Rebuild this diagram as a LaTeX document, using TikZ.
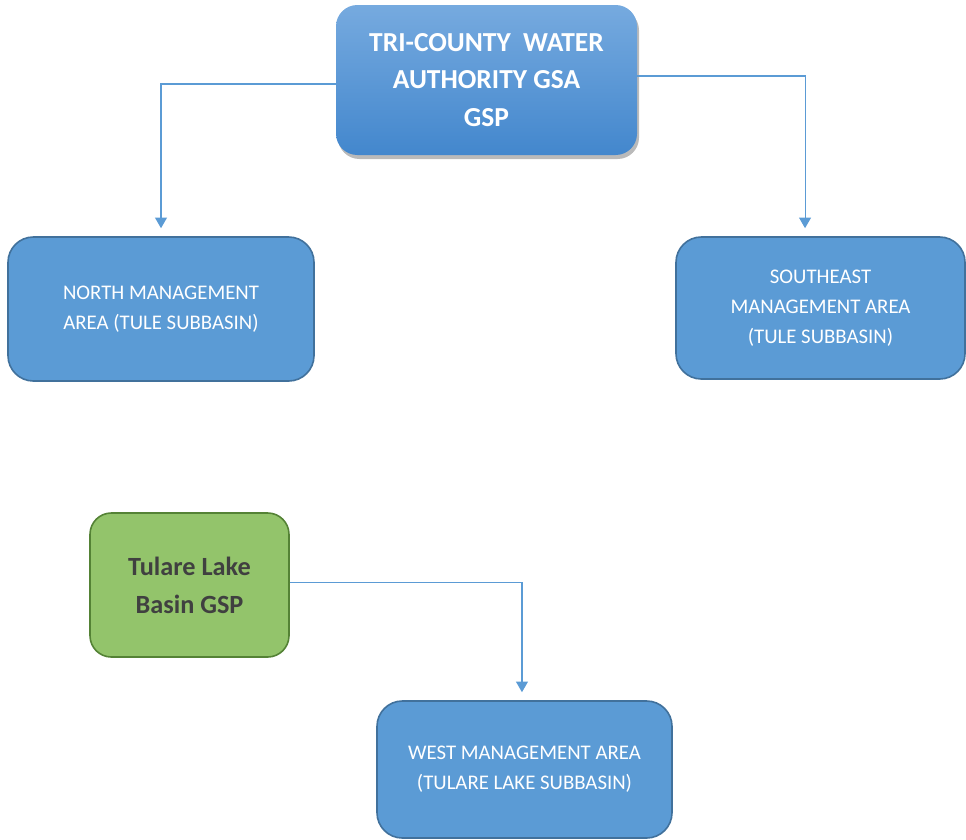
\documentclass[tikz,border=0pt]{standalone}
\usepackage{fontspec}
\setmainfont{Carlito}
\usetikzlibrary{arrows.meta,shadows,positioning}
\definecolor{boxblue}{HTML}{5B9BD5}
\definecolor{boxedge}{HTML}{41719C}
\definecolor{topA}{HTML}{76AADF}
\definecolor{topB}{HTML}{4387CD}
\definecolor{grfill}{HTML}{93C46B}
\definecolor{gredge}{HTML}{548235}
\definecolor{grtext}{HTML}{404040}
\definecolor{conncol}{HTML}{5B9BD5}
\tikzset{
  areabox/.style={draw=boxedge, line width=1.2pt, fill=boxblue, rounded corners=19pt,
    text=white, align=center, font=\fontsize{15.6}{22.5}\selectfont},
  topbox/.style={rounded corners=16pt, top color=topA, bottom color=topB, draw=none,
    text=white, align=center, font=\fontsize{20.6}{28}\selectfont\bfseries,
    drop shadow={shadow xshift=1.5pt, shadow yshift=-3pt, opacity=0.45, fill=black!60}},
  greenbox/.style={draw=gredge, line width=1.2pt, fill=grfill, rounded corners=16pt,
    text=grtext, align=center, font=\fontsize{19.7}{28.5}\selectfont\bfseries},
  conn/.style={draw=conncol, line width=0.8pt, -{Triangle[width=9pt,length=8pt]}, shorten >=6pt}
}
\begin{document}
\begin{tikzpicture}[x=0.75pt,y=-0.75pt]
\useasboundingbox (0,0) rectangle (966,839);
\node[topbox, minimum width=225.75pt, minimum height=112.5pt] (top) at (486.5,80)
  {TRI-COUNTY\ \ WATER\\AUTHORITY GSA\\GSP};
\node[areabox, minimum width=229.5pt, minimum height=108pt] (north) at (161,309)
  {NORTH MANAGEMENT\\AREA (TULE SUBBASIN)};
\node[areabox, minimum width=216.75pt, minimum height=106.5pt] (se) at (820.5,308)
  {SOUTHEAST\\MANAGEMENT AREA\\(TULE SUBBASIN)};
\node[greenbox, minimum width=149.25pt, minimum height=108pt] (green) at (189.5,585)
  {Tulare Lake\\Basin GSP};
\node[areabox, minimum width=221.25pt, minimum height=102.75pt] (west) at (524.5,769.5)
  {WEST MANAGEMENT AREA\\(TULARE LAKE SUBBASIN)};
\draw[conn] ([yshift=-3pt]top.west) -| (north.north);
\draw[conn] ([yshift=3pt]top.east) -| ([xshift=-11.6pt]se.north);
\draw[conn] ([yshift=2.2pt]green.east) -| ([xshift=-1.9pt]west.north);
\end{tikzpicture}
\end{document}
